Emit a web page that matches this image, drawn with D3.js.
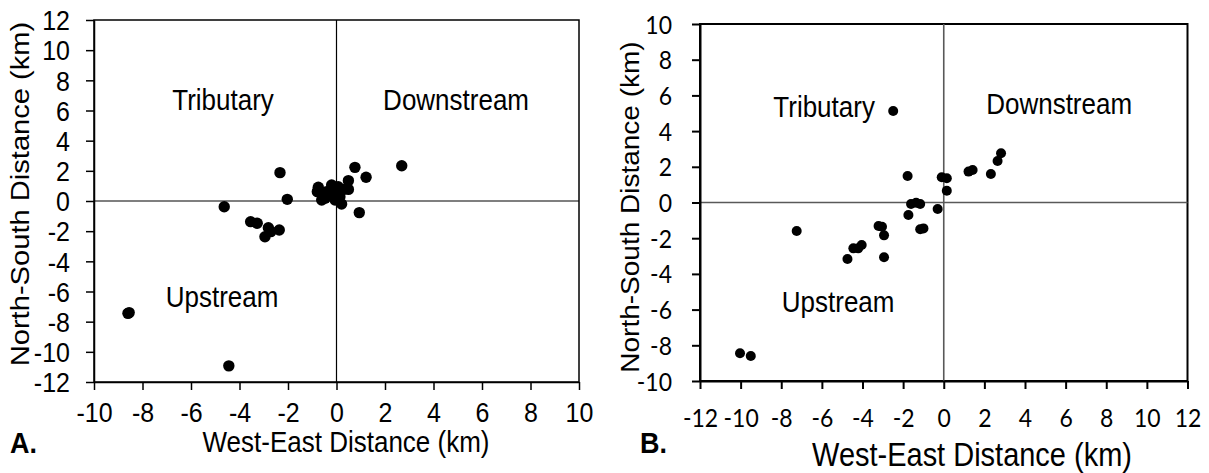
<!DOCTYPE html>
<html lang="en">
<head>
<meta charset="utf-8">
<title>Stream distance scatter</title>
<script type="text/javascript" src="https://d3js.org/d3.v7.min.js"></script>
<style type="text/css">
    body { margin: 0; background: #fff; }
    svg text { font-family: "Liberation Sans", Arial, sans-serif; fill: #000; }
</style>
</head>
<body>
<script type="text/javascript">
// ---- data, panel A ----
var aWestEast   = [-8.6, -8.55, -4.44, -4.63, -3.54, -3.27, -2.81, -2.95, -2.71, -2.36, -2.33, -2.03,
                   -0.75, -0.79, -0.61, -0.41, -0.47, -0.2, -0.2, 0.01, -0.06, 0.07, 0.14, 0.21, 0.28,
                   0.49, 0.49, 0.76, 0.94, 1.22, 2.69];
var aNorthSouth = [-7.45, -7.4, -10.93, -0.38, -1.37, -1.48, -1.77, -2.37, -2.03, -1.92, 1.88, 0.11,
                   0.91, 0.62, 0.07, 0.62, 0.18, 1.06, 0.4, 0.62, 0.07, 0.95, 0.29, -0.2, 0.77,
                   1.35, 0.77, 2.23, -0.77, 1.57, 2.34];
var aXTicks = [-10, -8, -6, -4, -2, 0, 2, 4, 6, 8, 10];
var aYTicks = [-12, -10, -8, -6, -4, -2, 0, 2, 4, 6, 8, 10, 12];

// ---- data, panel B ----
var bWestEast   = [-10.03, -9.5, -7.24, -4.74, -4.45, -4.21, -4.04, -3.21, -3.04, -2.94, -2.94, -2.49,
                   -1.78, -1.74, -1.61, -1.36, -1.16, -1.16, -1.0, -0.3, -0.1, 0.15, 0.15, 1.22, 1.42,
                   2.32, 2.65, 2.82];
var bNorthSouth = [-8.45, -8.6, -1.6, -3.17, -2.57, -2.57, -2.38, -1.32, -1.36, -1.84, -3.07, 5.13,
                   1.48, -0.7, -0.08, -0.01, -0.08, -1.5, -1.45, -0.36, 1.41, 1.36, 0.66, 1.73, 1.82,
                   1.6, 2.32, 2.76];
var bXTicks = [-12, -10, -8, -6, -4, -2, 0, 2, 4, 6, 8, 10, 12];
var bYTicks = [-10, -8, -6, -4, -2, 0, 2, 4, 6, 8, 10];

var quadrantNames = ["Tributary", "Downstream", "Upstream"];
var xTitle = "West-East Distance (km)";
var yTitle = "North-South Distance (km)";

// the source figure is a little stretched vertically, text included
var stretch = 1.12;

var svg = d3.select("body").append("svg")
    .attr("width", 1209)
    .attr("height", 473);

function drawPanel(p) {
    var x = d3.scaleLinear().domain(p.xDomain).range(p.xRange);
    var y = d3.scaleLinear().domain(p.yDomain).range(p.yRange);
    var g = svg.append("g");

    // frame
    g.append("rect")
        .attr("x", p.xRange[0]).attr("y", p.yRange[1])
        .attr("width", p.xRange[1] - p.xRange[0])
        .attr("height", p.yRange[0] - p.yRange[1])
        .attr("fill", "none").attr("stroke", "#000").attr("stroke-width", p.axisWidth);

    // zero lines
    g.append("line")
        .attr("x1", x(0)).attr("x2", x(0))
        .attr("y1", p.yRange[1]).attr("y2", p.yRange[0])
        .attr("stroke", p.zeroColor).attr("stroke-width", p.zeroWidth);
    g.append("line")
        .attr("x1", p.xRange[0]).attr("x2", p.xRange[1])
        .attr("y1", y(0)).attr("y2", y(0))
        .attr("stroke", p.zeroColor).attr("stroke-width", p.zeroWidth);

    var fmt = function(d) { return String(d); };

    var xa = g.append("g")
        .attr("transform", "translate(0," + p.yRange[0] + ")")
        .call(d3.axisBottom(x).tickValues(p.xTicks).tickFormat(fmt).tickSize(8).tickSizeOuter(0));
    var ya = g.append("g")
        .attr("transform", "translate(" + p.xRange[0] + ",0)")
        .call(d3.axisLeft(y).tickValues(p.yTicks).tickFormat(fmt).tickSize(8).tickSizeOuter(0));
    [xa, ya].forEach(function(a) {
        a.select(".domain").attr("stroke", "#000").attr("stroke-width", p.axisWidth);
        a.selectAll(".tick line").attr("stroke", "#000").attr("stroke-width", p.axisWidth);
        a.selectAll(".tick text")
            .style("font-family", p.tickFont)
            .style("font-size", p.tickSize + "px")
            .attr("fill", "#000")
            .attr("x", null).attr("y", null)
            .attr("dy", "0.35em");
    });
    xa.selectAll(".tick text")
        .attr("transform", "translate(0," + p.xLabelDy + ") scale(1," + stretch + ")");
    ya.selectAll(".tick text")
        .attr("transform", "translate(" + (-p.yLabelDx) + ",0) scale(1," + stretch + ")");

    // points
    g.selectAll("circle")
        .data(p.xs.map(function(v, i) { return [v, p.ys[i]]; }))
        .enter().append("circle")
        .attr("cx", function(d) { return x(d[0]); })
        .attr("cy", function(d) { return y(d[1]); })
        .attr("r", p.r)
        .attr("fill", "#000");

    // quadrant labels
    quadrantNames.forEach(function(name, i) {
        g.append("text")
            .attr("transform", "translate(" + x(p.labelAt[i][0]) + "," + y(p.labelAt[i][1]) + ") scale(1," + stretch + ")")
            .attr("dy", "0.35em")
            .attr("text-anchor", "middle")
            .style("font-size", "26px")
            .text(name);
    });

    // axis titles
    g.append("text")
        .attr("transform", "translate(" + p.xTitlePos[0] + "," + p.xTitlePos[1] + ") scale(1," + stretch + ")")
        .attr("dy", "0.35em")
        .attr("text-anchor", "middle")
        .style("font-size", p.xTitleSize + "px")
        .text(xTitle);
    g.append("text")
        .attr("transform", "translate(" + p.yTitlePos[0] + "," + p.yTitlePos[1] + ") rotate(-90) scale(" + stretch + ",1)")
        .attr("dy", "0.35em")
        .attr("text-anchor", "middle")
        .style("font-size", p.yTitleSize + "px")
        .text(yTitle);

    g.append("text")
        .attr("transform", "translate(" + p.letterPos[0] + "," + p.letterPos[1] + ") scale(1," + stretch + ")")
        .attr("dy", "0.35em")
        .style("font-size", "27px")
        .style("font-weight", "bold")
        .text(p.letter);
}

drawPanel({
    xs: aWestEast, ys: aNorthSouth,
    xTicks: aXTicks, yTicks: aYTicks,
    xDomain: [-10, 10], yDomain: [-12, 12],
    xRange: [94, 579], yRange: [382, 20],
    axisWidth: 1.5, zeroColor: "#000", zeroWidth: 1.2,
    tickFont: '"Liberation Sans", Arial, sans-serif', tickSize: 25,
    xLabelDy: 30, yLabelDx: 24, r: 5.7,
    labelAt: [[-4.68, 6.7], [4.93, 6.7], [-4.72, -6.37]],
    xTitlePos: [346, 442], yTitlePos: [20, 194], xTitleSize: 26, yTitleSize: 26,
    letter: "A.", letterPos: [10, 442]
});

drawPanel({
    xs: bWestEast, ys: bNorthSouth,
    xTicks: bXTicks, yTicks: bYTicks,
    xDomain: [-12, 12], yDomain: [-10, 10],
    xRange: [700, 1187.5], yRange: [381, 24],
    axisWidth: 2, zeroColor: "#595959", zeroWidth: 1.6,
    tickFont: 'Lato, "Open Sans", sans-serif', tickSize: 23,
    xLabelDy: 37, yLabelDx: 28, r: 5,
    labelAt: [[-5.89, 5.35], [5.68, 5.52], [-5.2, -5.57]],
    xTitlePos: [972, 455], yTitlePos: [630, 207], xTitleSize: 29, yTitleSize: 25,
    letter: "B.", letterPos: [640, 442]
});
</script>
</body>
</html>
